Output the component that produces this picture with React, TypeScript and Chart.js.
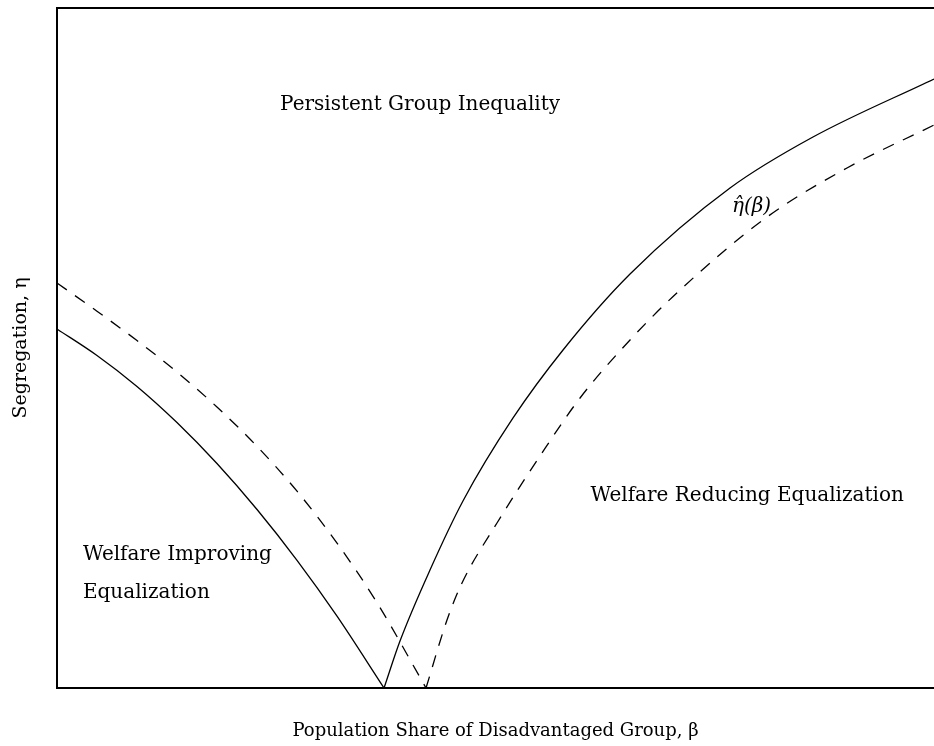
import React, { useEffect, useRef } from "react";
import { Chart, registerables } from "chart.js";

Chart.register(...registerables);

// Solid curve (η threshold) – left and right branches around the kink
const betaSolidLeft = [0, 0.0456, 0.0912, 0.1368, 0.1824, 0.2281, 0.2737, 0.3193, 0.3729];
const etaSolidLeft = [0.528, 0.489, 0.4435, 0.3904, 0.3301, 0.2625, 0.1878, 0.1057, 0];
const betaSolidRight = [0.3729, 0.3911, 0.4253, 0.4629, 0.52, 0.577, 0.6534, 0.7674, 0.862, 1.0];
const etaSolidRight = [0, 0.0691, 0.1735, 0.275, 0.3971, 0.4971, 0.6088, 0.7353, 0.8103, 0.8956];

// Dashed curve – left and right branches
const betaDashLeft = [0, 0.0456, 0.0912, 0.1368, 0.1824, 0.2281, 0.2737, 0.3193, 0.3649, 0.4208];
const etaDashLeft = [0.5956, 0.5541, 0.511, 0.4647, 0.4132, 0.3553, 0.2894, 0.2131, 0.1255, 0];
const betaDashRight = [0.4208, 0.4447, 0.4618, 0.5017, 0.5507, 0.5964, 0.6534, 0.7104, 0.8096, 0.9008, 1.0];
const etaDashRight = [0, 0.1, 0.1544, 0.2426, 0.3412, 0.4265, 0.5118, 0.5853, 0.6926, 0.7647, 0.8279];

// Text labels in data coordinates
const labelTexts = [
  "Persistent Group Inequality",
  "Welfare Reducing Equalization",
  "Welfare Improving",
  "Equalization",
  "η̂(β)",
];
const labelBeta = [0.414, 0.787, 0.0296, 0.0296, 0.792];
const labelEta = [0.85, 0.275, 0.188, 0.132, 0.7];
const labelAlign = ["center", "center", "left", "left", "center"];

const xTitle = "Population Share of Disadvantaged Group, β";
const yTitle = "Segregation, η";

const FONT = "'DejaVu Serif', 'Liberation Serif', serif";

function pts(xs: number[], ys: number[]) {
  return xs.map((x, i) => ({ x, y: ys[i] }));
}

const labelPlugin = {
  id: "regionLabels",
  afterDatasetsDraw(chart: any) {
    const { ctx, scales } = chart;
    ctx.save();
    ctx.fillStyle = "#000";
    ctx.textBaseline = "alphabetic";
    labelTexts.forEach((t, i) => {
      const px = scales.x.getPixelForValue(labelBeta[i]);
      const py = scales.y.getPixelForValue(labelEta[i]);
      ctx.font = i === 4 ? `italic 20px ${FONT}` : `20px ${FONT}`;
      ctx.textAlign = labelAlign[i];
      ctx.fillText(t, px, py);
    });
    ctx.restore();
  },
};

export default function App() {
  const ref = useRef<HTMLCanvasElement | null>(null);
  useEffect(() => {
    if (!ref.current) return;
    const lineBase = {
      borderColor: "#000",
      borderWidth: 1.3,
      pointRadius: 0,
      showLine: true,
      fill: false,
      cubicInterpolationMode: "monotone" as const,
    };
    const chart = new Chart(ref.current, {
      type: "line",
      data: {
        datasets: [
          { ...lineBase, data: pts(betaSolidLeft, etaSolidLeft) },
          { ...lineBase, data: pts(betaSolidRight, etaSolidRight) },
          { ...lineBase, borderDash: [12, 10], data: pts(betaDashLeft, etaDashLeft) },
          { ...lineBase, borderDash: [12, 10], data: pts(betaDashRight, etaDashRight) },
        ],
      },
      options: {
        animation: false,
        responsive: false,
        maintainAspectRatio: false,
        layout: { padding: 0 },
        plugins: { legend: { display: false }, tooltip: { enabled: false } },
        scales: {
          x: {
            type: "linear",
            min: 0,
            max: 1,
            grid: { display: false },
            ticks: { display: false },
            border: { display: true, color: "#000", width: 2 },
            title: {
              display: true,
              text: xTitle,
              color: "#000",
              font: { family: FONT, size: 18 },
              padding: { top: 0, bottom: 4 },
            },
            afterFit: (s: any) => {
              s.height = 58;
            },
          },
          x2: {
            type: "linear",
            position: "top",
            min: 0,
            max: 1,
            grid: { display: false },
            ticks: { display: false },
            border: { display: true, color: "#000", width: 2 },
            afterFit: (s: any) => {
              s.height = 8;
            },
          },
          y: {
            type: "linear",
            min: 0,
            max: 1,
            grid: { display: false },
            ticks: { display: false },
            border: { display: true, color: "#000", width: 2 },
            title: {
              display: true,
              text: yTitle,
              color: "#000",
              font: { family: FONT, size: 19 },
              padding: { top: 10, bottom: 0 },
            },
            afterFit: (s: any) => {
              s.width = 57;
            },
          },
        },
      },
      plugins: [labelPlugin],
    });
    return () => chart.destroy();
  }, []);
  return (
    <div style={{ position: "absolute", left: 0, top: 0, width: 934, height: 746, background: "#fff" }}>
      <canvas ref={ref} width={934} height={746} style={{ display: "block" }} />
    </div>
  );
}
